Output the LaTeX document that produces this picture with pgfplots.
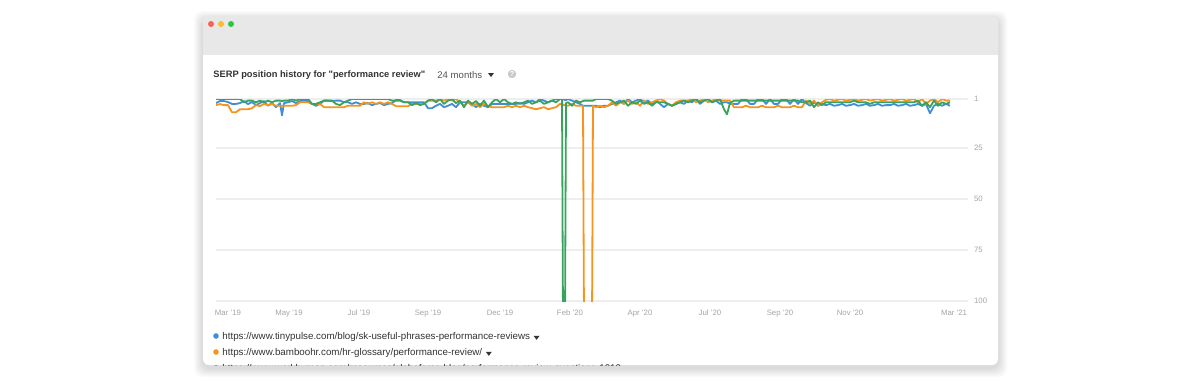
\documentclass[border=0pt]{standalone}
\usepackage{pgfplots}
\pgfplotsset{compat=1.18}
\usepackage{pgfplotstable}
\usepackage{fontspec}
\setmainfont{Liberation Sans}
\definecolor{sblue}{RGB}{62,142,216}
\definecolor{sorange}{RGB}{247,148,29}
\definecolor{sgreen}{RGB}{56,163,92}
\definecolor{gridgrey}{RGB}{238,238,238}
\definecolor{labgrey}{RGB}{165,165,165}
\definecolor{barGrey}{RGB}{232,232,232}
\definecolor{txt}{RGB}{51,51,51}
\definecolor{txtb}{RGB}{85,85,85}
\definecolor{tlred}{RGB}{255,95,87}
\definecolor{tlyel}{RGB}{254,188,46}
\definecolor{tlgrn}{RGB}{40,200,64}
\definecolor{qgrey}{RGB}{200,200,200}

\pgfplotstableread{
day b o g
0 3 4 1
4 2 3.5 1
8 2 4 1
12 2.5 4 1
16 3.4 7.5 1
20 3.4 7.5 1
24 3 6 1
28 2 6 2.6
32 3.5 6 1.8
36 2.5 5.5 1.8
40 4 4 2.6
44 3 4.5 1.8
48 2 3.4 2.6
52 4.3 4 1.8
56 3 3.4 2.6
60 5 4.3 1.8
64 3 4.3 1.8
66 9 4.3 2
68 3 4.3 1.8
72 2.6 4.3 1.8
76 2 4.3 1
80 3 4 1.8
84 2 2.6 1
88 1.8 2.6 1
92 2 2.6 1
96 3.4 3.4 3.4
100 4.3 3.4 3.4
104 3.4 3.4 2.6
108 1.8 5 1.8
112 1.8 5 1.8
116 2 5 1.8
120 1.8 5 3.4
124 1.8 5 4
128 2.6 5 2.6
132 2.6 4.3 1.8
136 3.4 4.3 1
140 2.6 4.3 1
144 3.4 4.3 1
148 3.4 2.6 1
152 3 3.4 1
156 4 2.6 1
160 3.4 3.4 1
164 3 2.6 1
168 4 3.4 1
172 3.4 2.6 1
176 3 3.4 1.8
180 1.5 4.5 1.8
184 1.5 4.5 1.8
188 2.6 4.5 2.6
192 2.6 4.5 2.6
196 2.6 3.4 4
200 2.6 3.4 3
204 2.6 3.4 4
208 2.6 3.4 3.4
212 5.5 1.8 1.8
216 5.5 1.8 1
220 4.3 1.8 2.6
224 3.4 1 1
228 5 1.8 3.4
232 4.3 1 1.8
236 3.4 1.8 1
240 5 1 3
244 2.6 2.6 1.8
248 2.6 4.3 5
252 2.6 2.6 1.8
256 3.4 4.3 3.4
260 5 3.4 2
264 3.4 5 4.3
268 4.3 3.4 1.8
272 5 4.3 5
276 3.4 5 2.6
280 3.4 5 1
284 3.4 5 2.6
288 3.4 5 1
292 3.4 4.3 2.6
296 3.4 5 3.4
300 3.4 4.3 2.6
304 3 5 3.4
308 3.4 4.3 2.6
312 2.6 5 1.8
316 1.8 5.5 3.4
320 2.6 6 2.6
324 1 5.5 1.8
328 1.8 5 3.4
332 2.6 6 2.6
336 1.8 5.5 1.8
340 1 5 2.6
344 1 3.4 1
346 1 3.4 1
347 1 4 110
349 1.5 4 110
350 1.5 4.3 3
352 1 4.3 2.6
356 1.8 3.4 4.3
360 2.6 4.3 1.8
364 3.4 4.3 2.6
367 4.3 4.3 2
368 4.3 110 1.8
376 4.3 110 1.8
377 4.3 4.3 1.8
380 4.3 5 1
384 5 4.3 1
388 4.3 5 1
392 4.3 4.3 1
396 3.4 2.6 1.8
400 2.6 4.3 3.4
404 1.8 2.6 2.6
408 3.4 3.4 1.8
412 1 1.8 4.3
416 2.6 3.4 2.6
420 1.8 2.6 3.4
424 1 4.3 1.8
428 2.6 1.8 3.4
432 1.8 3.4 2.6
436 3.4 2.6 4.3
440 1.8 1.8 2.6
444 3.4 1 2.6
448 5 1.8 2.6
452 3.4 3.4 3.4
456 4.3 4.3 4.3
460 3.4 2.6 3.4
464 2.6 1.8 2.6
468 3.4 1.8 1.8
472 1.8 1.8 2.6
476 2.6 1 1.8
480 1 2.6 1
484 3.4 1.8 2.6
488 1.8 1 1.8
492 1 2.6 1
496 2.6 1.8 2.6
500 1.8 1 1.8
504 3.4 1.8 1
508 2.6 1.8 6
511 2.6 1.8 8.5
514 3.4 1.8 3
518 3.4 5 1.8
522 3.4 5 1.8
526 1 5 1.8
530 1 4.3 1.8
534 3.4 5 1.8
538 3.4 5 1.8
542 1 5 1.8
546 1 4.3 1.8
550 3.4 5 1.8
554 1 5 1.8
558 3.4 5 1.8
562 3.4 4.3 1.8
566 1 5 1.8
570 1 5 1.8
574 3.4 5 1.8
578 1 4.3 1.8
582 3.4 5 1.8
586 1 5 2.6
590 3 1.8 2.6
594 4.3 3.4 1.8
598 2.6 1.8 5
602 4.3 4.3 2.6
606 3.4 2.6 4
610 4 1.4 2.6
614 3.4 1 2.6
618 4.3 1.8 2.6
622 4 1.4 2.6
626 3.4 1 2.6
630 4.3 1.8 2.6
634 4 1.4 2.6
638 3.4 1 1.8
642 4.3 1.8 2.6
646 4 1.4 2.6
650 3.4 1 2.6
654 4.3 1.8 3.4
658 4 1.4 2.6
662 3.4 1 2.6
666 4.3 1.8 2.6
670 4 1.4 2.6
674 4 1 2.6
678 3.4 1.8 2.6
682 4.3 1.4 2.6
686 4 1 2.6
690 3.4 1.8 2.6
694 4.3 1.4 2.6
698 4 1 2.6
702 3.4 2.6 1.8
706 4.3 1 4.3
710 3.4 3.4 2.6
714 8 1.8 5
718 4.3 1 1.8
722 3.4 2.6 4.3
726 4.3 1 2.6
730 3.4 1.8 3.4
734 4.3 1.8 2.6
}\serp

\begin{document}
\begin{tikzpicture}
\begin{scope}[x=0.5pt,y=-0.5pt]
  % page background
  \fill[white] (0,0) rectangle (1200,382);
  % shadow
  \foreach \i in {1,...,9}{
    \fill[black,opacity=0.016,rounded corners=4] (203-\i,17-\i+3) rectangle (998+\i,365+\i+3);
  }
  % window
  \fill[white,rounded corners=3] (203,17) rectangle (998,365);
  \fill[barGrey,rounded corners=3] (203,17) rectangle (998,40);
  \fill[barGrey] (203,30) rectangle (998,55);
  \fill[tlred] (211,24) circle (3);
  \fill[tlyel] (221,24) circle (3);
  \fill[tlgrn] (231,24) circle (3);
  % title
  \node[anchor=west,inner sep=0,text=txt,font=\fontsize{4.65}{6}\selectfont\bfseries] at (213,75) {SERP position history for \textquotedbl performance review\textquotedbl};
  \node[anchor=west,inner sep=0,text=txtb,font=\fontsize{4.8}{6}\selectfont] at (437,75) {24 months};
  \fill[txt] (488,73) -- (494,73) -- (491,77) -- cycle;
  \fill[qgrey] (512,74) circle (4.2);
  \node[text=white,inner sep=0,font=\fontsize{3.6}{4}\selectfont\bfseries] at (512,74.3) {?};
\end{scope}

\begin{axis}[
  at={(108pt,-150.5pt)}, anchor=south west,
  width=376pt, height=101pt, scale only axis,
  xmin=0, xmax=752, ymin=1, ymax=100, y dir=reverse,
  axis line style={draw=none},
  ytick={1,25,50,75,100}, yticklabel pos=right,
  xtick={12,73,143,212,284,354,424,494,564,634,738},
  xticklabels={Mar '19,May '19,Jul '19,Sep '19,Dec '19,Feb '20,Apr '20,Jul '20,Sep '20,Nov '20,Mar '21},
  tick style={draw=none},
  ymajorgrids, grid style={draw=gridgrey,line width=0.6pt},
  ticklabel style={font=\fontsize{3.9}{4.5}\selectfont, text=labgrey},
  xticklabel style={yshift=-0.8pt},
  yticklabel style={xshift=-0.5pt},
  /pgf/number format/assume math mode=true,
  clip=true,
]
\addplot[sblue,line width=0.9pt,line join=round] table[x=day,y=b] {\serp};
\addplot[sorange,line width=0.9pt,line join=round] table[x=day,y=o] {\serp};
\addplot[sgreen,line width=0.9pt,line join=round] table[x=day,y=g] {\serp};
\end{axis}

\begin{scope}[x=0.5pt,y=-0.5pt]
  \clip (203,17) rectangle (998,365);
  \fill[sblue] (216,336) circle (2.8);
  \node[anchor=west,inner sep=0,text=txt,font=\fontsize{4.88}{6}\selectfont] (l1) at (222,337) {https://www.tinypulse.com/blog/sk-useful-phrases-performance-reviews};
  \fill[sorange] (216,352) circle (2.8);
  \node[anchor=west,inner sep=0,text=txt,font=\fontsize{4.88}{6}\selectfont] (l2) at (222,353) {https://www.bamboohr.com/hr-glossary/performance-review/};
  \fill[sgreen] (216,368) circle (2.8);
  \node[anchor=west,inner sep=0,text=txt,font=\fontsize{4.88}{6}\selectfont] (l3) at (222,369) {https://www.workhuman.com/resources/globoforce-blog/performance-review-questions-1010};
\end{scope}
\fill[txt] ([xshift=1.6pt,yshift=0.6pt]l1.east) -- ++(3pt,0) -- ++(-1.5pt,-2pt) -- cycle;
\fill[txt] ([xshift=1.6pt,yshift=0.6pt]l2.east) -- ++(3pt,0) -- ++(-1.5pt,-2pt) -- cycle;
\end{tikzpicture}
\end{document}
